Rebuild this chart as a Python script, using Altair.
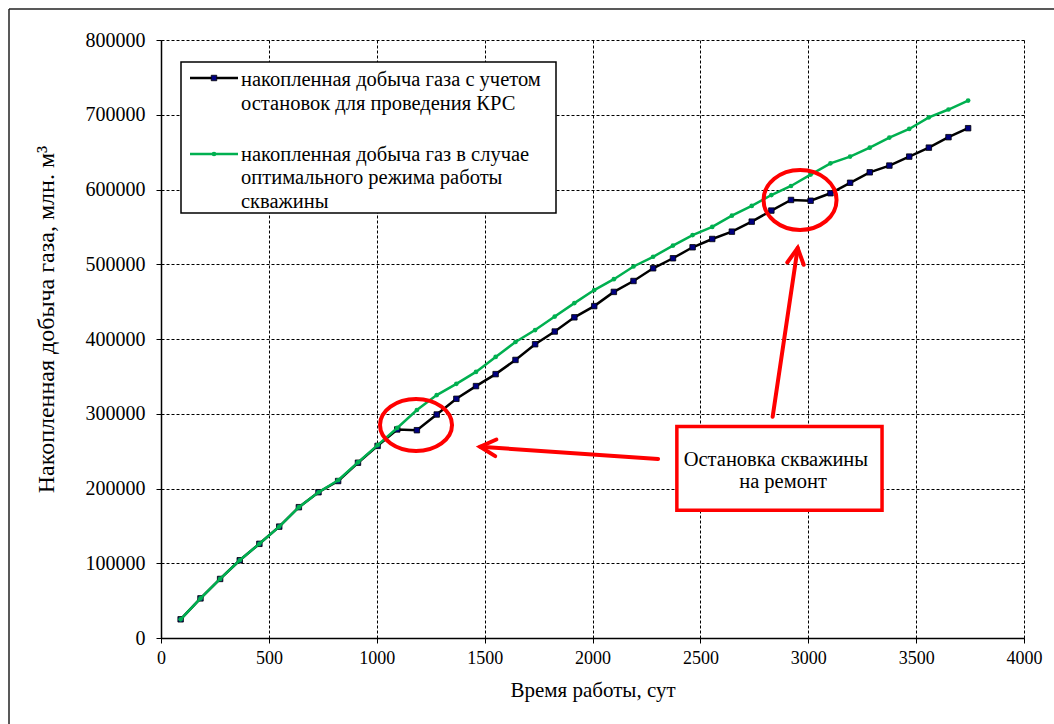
import altair as alt
import pandas as pd

# ---- data ----
days = [91, 183, 274, 365, 456, 548, 639, 730, 821, 913, 1004, 1095, 1186, 1278,
        1369, 1460, 1551, 1643, 1734, 1825, 1916, 2008, 2099, 2190, 2281, 2373,
        2464, 2555, 2646, 2738, 2829, 2920, 3011, 3103, 3194, 3285, 3376, 3468,
        3559, 3650, 3741]

with_stops = [25000, 53000, 79000, 104000, 126000, 149000, 175000, 195000, 210000,
              234500, 257000, 279000, 278000, 299000, 320000, 337000, 353000, 372000,
              393000, 410000, 429000, 444000, 463000, 477600, 494600, 508000, 522700,
              533800, 543600, 557000, 571800, 586000, 585000, 595000, 609000, 623000,
              632000, 644000, 656000, 670000, 682000]

optimal = [25000, 53000, 79000, 104000, 126000, 149000, 175000, 195000, 211000,
           235000, 258000, 281000, 305000, 325000, 340000, 356000, 376000, 396000,
           412000, 430000, 448000, 465500, 480000, 497000, 510000, 525000, 539000,
           550000, 565000, 578000, 592600, 604700, 620000, 635000, 644000, 656000,
           669500, 681000, 696500, 707000, 719000]

legend_lines_1 = ["накопленная добыча газа с учетом", "остановок для проведения КРС"]
legend_lines_2 = ["накопленная добыча газ в случае", "оптимального режима работы", "скважины"]
x_title = "Время работы, сут"
y_title = "Накопленная добыча газа, млн. м³"
note_lines = ["Остановка скважины", "на ремонт"]

x_ticks = [0, 500, 1000, 1500, 2000, 2500, 3000, 3500, 4000]
y_ticks = [0, 100000, 200000, 300000, 400000, 500000, 600000, 700000, 800000]

# annotation anchors in data units
ellipse_x = [1182, 2962]
ellipse_y = [285000, 586000]
arrow_tail_x = [2304, 2835]
arrow_tail_y = [239500, 296000]
arrow_tip_x = [1479, 2951]
arrow_tip_y = [255900, 521700]
box_x = [2391, 3342]
box_y = [171000, 283000]
note_x = [2850, 2883]
note_y = [238100, 208700]

FONT = "Liberation Serif"
GREEN = "#00B050"
RED = "#FF0000"

df = pd.DataFrame({
    "day": days * 2,
    "value": with_stops + optimal,
    "series": ["stops"] * len(days) + ["optimal"] * len(days),
})

xs = alt.Scale(domain=[0, 4000], nice=False)
ys = alt.Scale(domain=[0, 800000], nice=False)

x_axis = alt.Axis(values=x_ticks, title=x_title, format="d", grid=True, gridColor="black",
                  gridDash=[3, 2], gridWidth=1, domainColor="black", domainWidth=1.5,
                  tickColor="black", tickSize=5, labelFont=FONT, labelFontSize=18,
                  labelColor="black", labelPadding=6, titleFont=FONT, titleFontSize=21,
                  titleFontWeight="normal", titleColor="black", titlePadding=12,
                  labelFlush=False)
y_axis = alt.Axis(values=y_ticks, title=y_title, format="d", grid=True,
                  gridColor="black", gridDash=[3, 2], gridWidth=1, domainColor="black",
                  domainWidth=1.5, tickColor="black", tickSize=5, labelFont=FONT,
                  labelFontSize=20, labelColor="black", labelPadding=11, titleFont=FONT,
                  titleFontSize=24, titleFontWeight="normal", titleColor="black",
                  titlePadding=27, titleY=279, labelFlush=False)

base = alt.Chart(df)

line_stops = base.transform_filter(alt.datum.series == "stops").mark_line(
    color="black", strokeWidth=2.5).encode(
    x=alt.X("day:Q", scale=xs, axis=x_axis),
    y=alt.Y("value:Q", scale=ys, axis=y_axis))
pts_stops = base.transform_filter(alt.datum.series == "stops").mark_point(
    shape="square", filled=True, fill="#000080", stroke="black", strokeWidth=0.8,
    size=30, opacity=1).encode(x="day:Q", y="value:Q")
line_opt = base.transform_filter(alt.datum.series == "optimal").mark_line(
    color=GREEN, strokeWidth=2.5).encode(x="day:Q", y="value:Q")
pts_opt = base.transform_filter(alt.datum.series == "optimal").mark_point(
    shape="circle", filled=True, color=GREEN, size=22, opacity=1).encode(
    x="day:Q", y="value:Q")


def ellipse_path(r):
    k = 0.5523
    return (f"M 1 0 C 1 {k*r:.4f} {k:.4f} {r:.4f} 0 {r:.4f} "
            f"C {-k:.4f} {r:.4f} -1 {k*r:.4f} -1 0 "
            f"C -1 {-k*r:.4f} {-k:.4f} {-r:.4f} 0 {-r:.4f} "
            f"C {k:.4f} {-r:.4f} 1 {-k*r:.4f} 1 0 Z")


ell_df = pd.DataFrame({"x": ellipse_x, "y": ellipse_y})
ell1 = alt.Chart(ell_df.iloc[[0]]).mark_point(
    shape=ellipse_path(0.72), filled=False, stroke=RED, strokeWidth=4, size=5184,
    opacity=1).encode(x="x:Q", y="y:Q")
ell2 = alt.Chart(ell_df.iloc[[1]]).mark_point(
    shape=ellipse_path(0.82), filled=False, stroke=RED, strokeWidth=4, size=5329,
    opacity=1).encode(x="x:Q", y="y:Q")

arr_df = pd.DataFrame({"x": arrow_tail_x, "y": arrow_tail_y,
                       "x2": arrow_tip_x, "y2": arrow_tip_y})
arrows = alt.Chart(arr_df).mark_rule(color=RED, strokeWidth=4, strokeCap="round").encode(
    x="x:Q", y="y:Q", x2="x2:Q", y2="y2:Q")
chevron = "M -0.5 0.95 L 0 0 L 0.5 0.95"
head1 = alt.Chart(arr_df.iloc[[0]]).mark_point(
    shape=chevron, filled=False, stroke=RED, strokeWidth=4, size=1100, angle=274,
    opacity=1, strokeCap="round").encode(x="x2:Q", y="y2:Q")
head2 = alt.Chart(arr_df.iloc[[1]]).mark_point(
    shape=chevron, filled=False, stroke=RED, strokeWidth=4, size=1100, angle=8,
    opacity=1, strokeCap="round").encode(x="x2:Q", y="y2:Q")

box_df = pd.DataFrame({"x": [box_x[0]], "x2": [box_x[1]], "y": [box_y[0]], "y2": [box_y[1]]})
box = alt.Chart(box_df).mark_rect(fill="white", stroke=RED, strokeWidth=3.5).encode(
    x="x:Q", x2="x2:Q", y="y:Q", y2="y2:Q")
note_df = pd.DataFrame({"x": note_x, "y": note_y, "t": note_lines})
notes = alt.Chart(note_df).mark_text(font=FONT, fontSize=20.5, color="black",
                                     align="center", baseline="middle").encode(
    x="x:Q", y="y:Q", text="t:N")

# legend (drawn by hand, inside the plot)
one = pd.DataFrame({"a": [0]})
leg_box = alt.Chart(one).mark_rect(fill="white", stroke="black", strokeWidth=1.5).encode(
    x=alt.value(20), x2=alt.value(395), y=alt.value(22), y2=alt.value(173))
leg_l1 = alt.Chart(one).mark_rule(color="black", strokeWidth=2.5).encode(
    x=alt.value(29), x2=alt.value(77), y=alt.value(38))
leg_p1 = alt.Chart(one).mark_point(shape="square", filled=True, fill="#000080",
                                   stroke="black", strokeWidth=0.8, size=30, opacity=1).encode(
    x=alt.value(53), y=alt.value(38))
leg_l2 = alt.Chart(one).mark_rule(color=GREEN, strokeWidth=2.5).encode(
    x=alt.value(29), x2=alt.value(77), y=alt.value(114))
leg_p2 = alt.Chart(one).mark_point(shape="circle", filled=True, color=GREEN,
                                   size=22, opacity=1).encode(
    x=alt.value(53), y=alt.value(114))

leg_texts = []
for txt, yy in zip(legend_lines_1 + legend_lines_2, [40, 64, 115, 138, 162]):
    leg_texts.append(alt.Chart(one).mark_text(
        font=FONT, fontSize=20.5, color="black", align="left", baseline="middle").encode(
        x=alt.value(80), y=alt.value(yy), text=alt.value(txt)))

# outer frame of the figure
frame_left = alt.Chart(one).mark_rule(color="#222222", strokeWidth=1.5).encode(
    x=alt.value(-152), y=alt.value(-31), y2=alt.value(700))
frame_top = alt.Chart(one).mark_rule(color="#222222", strokeWidth=1.5).encode(
    x=alt.value(-152), x2=alt.value(900), y=alt.value(-31))

chart = alt.layer(
    line_stops, pts_stops, line_opt, pts_opt,
    arrows, head1, head2, box, notes, ell1, ell2,
    leg_box, leg_l1, leg_p1, leg_l2, leg_p2, *leg_texts,
    frame_left, frame_top,
).properties(
    width=863, height=598,
    padding={"left": 161, "top": 40, "right": 30, "bottom": 86},
    autosize=alt.AutoSizeParams(type="none"),
    background="white",
).configure_view(stroke=None)

chart.save("out.html", embed_options={"renderer": "svg", "actions": False})
